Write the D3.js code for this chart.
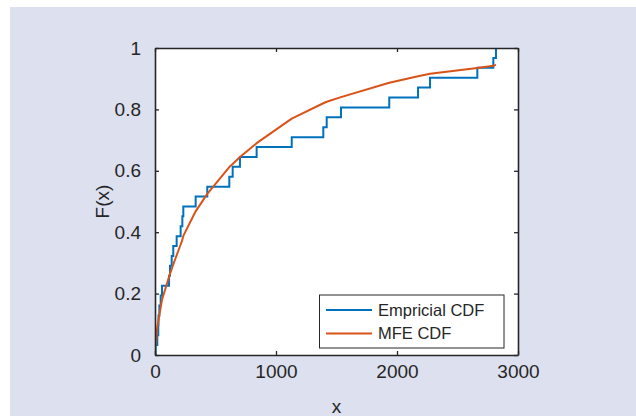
<!DOCTYPE html>
<html>
<head>
<meta charset="utf-8">
<script src="https://cdn.jsdelivr.net/npm/d3@7"></script>
<style>
  html, body { margin: 0; padding: 0; background: #ffffff; }
  svg { display: block; }
  text { font-family: "Liberation Sans", Arial, Helvetica, sans-serif; fill: #262626; }
</style>
</head>
<body>
<svg id="chart" width="636" height="416"></svg>
<script>
// Sorted sample values (jump points of the empirical CDF)
const sampleX = [5, 19, 27, 29, 36, 47, 58, 116, 124, 138, 151, 179, 212, 226, 234, 336, 432,
                 614, 642, 702, 840, 1130, 1391, 1419, 1537, 1936, 2174, 2273, 2664, 2796, 2818];
// Fitted (MFE) CDF evaluated at the sample values
const mfeCdf = [0.03, 0.09, 0.11, 0.115, 0.13, 0.155, 0.18, 0.255, 0.265, 0.28, 0.295, 0.325, 0.36, 0.375,
                0.388, 0.468, 0.525, 0.612, 0.622, 0.645, 0.69, 0.77, 0.82, 0.825, 0.84, 0.887, 0.908,
                0.916, 0.935, 0.942, 0.945];
const xTicks = [0, 1000, 2000, 3000];
const yTicks = [0, 0.2, 0.4, 0.6, 0.8, 1];
const yTickLabels = ["0", "0.2", "0.4", "0.6", "0.8", "1"];
const legendLabels = ["Empricial CDF", "MFE CDF"];
const seriesColors = ["#0072BD", "#D95319"];

const svg = d3.select("#chart");
const W = 636, H = 416;
const plot = { left: 155, right: 518, top: 48, bottom: 355 };

// figure background
svg.append("rect").attr("x", 10).attr("y", 7).attr("width", W - 10).attr("height", H - 7)
  .attr("fill", "#dde0ee");

const x = d3.scaleLinear().domain([0, 3000]).range([plot.left, plot.right]);
const y = d3.scaleLinear().domain([0, 1]).range([plot.bottom, plot.top]);

// plot area
svg.append("rect").attr("x", plot.left).attr("y", plot.top)
  .attr("width", plot.right - plot.left).attr("height", plot.bottom - plot.top)
  .attr("fill", "#ffffff");

// empirical CDF as stairs
const n = sampleX.length;
const ecdfPts = [[sampleX[0], 0]];
sampleX.forEach((v, i) => {
  ecdfPts.push([v, i / n]);
  ecdfPts.push([v, (i + 1) / n]);
  if (i < n - 1) ecdfPts.push([sampleX[i + 1], (i + 1) / n]);
});
const line = d3.line().x(d => x(d[0])).y(d => y(d[1]));

svg.append("clipPath").attr("id", "clip").append("rect")
  .attr("x", plot.left).attr("y", plot.top - 1)
  .attr("width", plot.right - plot.left).attr("height", plot.bottom - plot.top + 1);

const g = svg.append("g").attr("clip-path", "url(#clip)");
g.append("path").datum(ecdfPts).attr("d", line)
  .attr("fill", "none").attr("stroke", seriesColors[0]).attr("stroke-width", 2)
  .attr("stroke-linejoin", "miter");

const mfePts = sampleX.map((v, i) => [v, mfeCdf[i]]);
g.append("path").datum(mfePts).attr("d", line)
  .attr("fill", "none").attr("stroke", seriesColors[1]).attr("stroke-width", 2)
  .attr("stroke-linejoin", "round");

// axes (box with inward ticks)
const axisColor = "#262626";
const tickLen = 4;
const axG = svg.append("g");
function styleAxis(sel) {
  sel.select(".domain").attr("stroke", axisColor).attr("stroke-width", 1.6);
  sel.selectAll(".tick line").attr("stroke", axisColor).attr("stroke-width", 1.3);
  sel.selectAll(".tick text").attr("font-size", "19px").attr("fill", axisColor)
     .attr("font-family", '"Liberation Sans", Arial, sans-serif');
}
const xAxis = d3.axisBottom(x).tickValues(xTicks).tickFormat(d3.format("d"))
  .tickSizeInner(-tickLen).tickSizeOuter(0).tickPadding(10);
axG.append("g").attr("transform", `translate(0,${plot.bottom})`).call(xAxis).call(styleAxis)
  .selectAll(".tick text").attr("dy", "0.71em");
const xAxisTop = d3.axisTop(x).tickValues(xTicks).tickFormat("")
  .tickSizeInner(-tickLen).tickSizeOuter(0);
axG.append("g").attr("transform", `translate(0,${plot.top})`).call(xAxisTop).call(styleAxis);

const yAxis = d3.axisLeft(y).tickValues(yTicks).tickFormat((d, i) => yTickLabels[i])
  .tickSizeInner(-tickLen).tickSizeOuter(0).tickPadding(14);
axG.append("g").attr("transform", `translate(${plot.left},0)`).call(yAxis).call(styleAxis);
const yAxisRight = d3.axisRight(y).tickValues(yTicks).tickFormat("")
  .tickSizeInner(-tickLen).tickSizeOuter(0);
axG.append("g").attr("transform", `translate(${plot.right},0)`).call(yAxisRight).call(styleAxis);

// axis labels
svg.append("text").attr("x", (plot.left + plot.right) / 2).attr("y", 413)
  .attr("text-anchor", "middle").attr("font-size", "19px").text("x");
svg.append("text").attr("transform", `translate(109,${(plot.top + plot.bottom) / 2}) rotate(-90)`)
  .attr("text-anchor", "middle").attr("font-size", "19px").text("F(x)");

// legend
const lg = svg.append("g");
lg.append("rect").attr("x", 319.5).attr("y", 295).attr("width", 184.5).attr("height", 53)
  .attr("fill", "#ffffff").attr("stroke", axisColor).attr("stroke-width", 1);
legendLabels.forEach((lab, i) => {
  const yy = 310 + i * 23.5;
  lg.append("line").attr("x1", 326).attr("x2", 372).attr("y1", yy).attr("y2", yy)
    .attr("stroke", seriesColors[i]).attr("stroke-width", 2);
  lg.append("text").attr("x", 378).attr("y", yy).attr("dy", "0.36em")
    .attr("font-size", "16.5px").text(lab);
});
</script>
</body>
</html>
